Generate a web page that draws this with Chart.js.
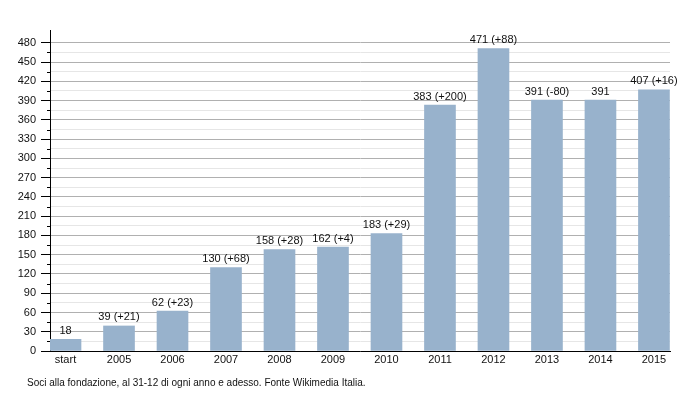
<!DOCTYPE html>
<html>
<head>
<meta charset="utf-8">
<script src="https://cdn.jsdelivr.net/npm/chart.js@4.4.1/dist/chart.umd.min.js"></script>
<style>
  html, body { margin: 0; padding: 0; background: #fff; }
  #wrap { width: 700px; height: 400px; }
</style>
</head>
<body>
<div id="wrap"><canvas id="chart" width="700" height="400"></canvas></div>
<script>
// data
const labels = ['start', '2005', '2006', '2007', '2008', '2009', '2010', '2011', '2012', '2013', '2014', '2015'];
const members = [18, 39, 62, 130, 158, 162, 183, 383, 471, 391, 391, 407];
const deltas = ['', '+21', '+23', '+68', '+28', '+4', '+29', '+200', '+88', '-80', '', '+16'];
const yTicksMajor = 30;
const yTicksMinor = 15;
const caption = 'Soci alla fondazione, al 31-12 di ogni anno e adesso. Fonte Wikimedia Italia.';

const FONT = '"Liberation Sans", Arial, sans-serif';

const isMajor = (v) => v % yTicksMajor === 0 && v !== 500;

// value labels over bars
const barLabels = {
  id: 'barLabels',
  afterDatasetsDraw(chart) {
    const ctx = chart.ctx;
    const meta = chart.getDatasetMeta(0);
    ctx.save();
    ctx.font = '11px ' + FONT;
    ctx.fillStyle = '#111';
    ctx.textAlign = 'center';
    ctx.textBaseline = 'bottom';
    meta.data.forEach((bar, i) => {
      let txt = String(members[i]);
      if (deltas[i]) txt += ' (' + deltas[i] + ')';
      ctx.fillText(txt, bar.x, bar.y - 3);
    });
    ctx.restore();
  }
};

// short minor tick marks on the y axis + caption
const extras = {
  id: 'extras',
  afterDraw(chart) {
    const ctx = chart.ctx;
    const y = chart.scales.y;
    ctx.save();
    ctx.strokeStyle = '#000';
    ctx.lineWidth = 1;
    y.ticks.forEach((t) => {
      if (t.value % yTicksMajor !== 0 && t.value !== 500) {
        const py = Math.round(y.getPixelForValue(t.value)) + 0.5;
        ctx.beginPath();
        ctx.moveTo(y.right - 3, py);
        ctx.lineTo(y.right, py);
        ctx.stroke();
      }
    });
    ctx.font = '10px ' + FONT;
    ctx.fillStyle = '#111';
    ctx.textAlign = 'left';
    ctx.textBaseline = 'middle';
    ctx.fillText(caption, 27, 383);
    ctx.restore();
  }
};

new Chart(document.getElementById('chart'), {
  type: 'bar',
  data: {
    datasets: [{
      data: members.map((v, i) => ({ x: i, y: v })),
      backgroundColor: '#98b2cc',
      borderWidth: 0,
      barThickness: 31
    }]
  },
  options: {
    responsive: false,
    animation: false,
    layout: { padding: { left: 0, top: 30, right: 30, bottom: 29 } },
    plugins: {
      legend: { display: false },
      tooltip: { enabled: false }
    },
    scales: {
      x: {
        type: 'linear',
        offset: false,
        min: -0.29,
        max: 11.3,
        afterBuildTicks: (scale) => {
          scale.ticks = labels.map((_, i) => ({ value: i }));
        },
        afterFit: (scale) => { scale.height = 20; },
        grid: { display: false, drawTicks: false },
        border: { display: true, color: '#000', width: 1 },
        ticks: {
          autoSkip: false,
          maxRotation: 0,
          padding: 2,
          color: '#111',
          font: { family: FONT, size: 11 },
          callback: (v) => labels[v]
        }
      },
      y: {
        min: 0,
        max: 500,
        afterFit: (scale) => { scale.width = 50; },
        border: { display: true, color: '#000', width: 1 },
        grid: {
          tickLength: 9,
          color: (c) => {
            const v = c.tick ? c.tick.value : 0;
            if (v === 500) return 'rgba(0,0,0,0)';
            return v % yTicksMajor === 0 ? '#b0b0b0' : '#e6e6e6';
          },
          tickColor: (c) => {
            const v = c.tick ? c.tick.value : 0;
            return isMajor(v) ? '#000' : 'rgba(0,0,0,0)';
          }
        },
        ticks: {
          stepSize: yTicksMinor,
          autoSkip: false,
          maxTicksLimit: 50,
          padding: 5,
          color: '#111',
          font: { family: FONT, size: 11 },
          callback: (v) => isMajor(v) ? String(v) : ''
        }
      }
    }
  },
  plugins: [barLabels, extras]
});
</script>
</body>
</html>
